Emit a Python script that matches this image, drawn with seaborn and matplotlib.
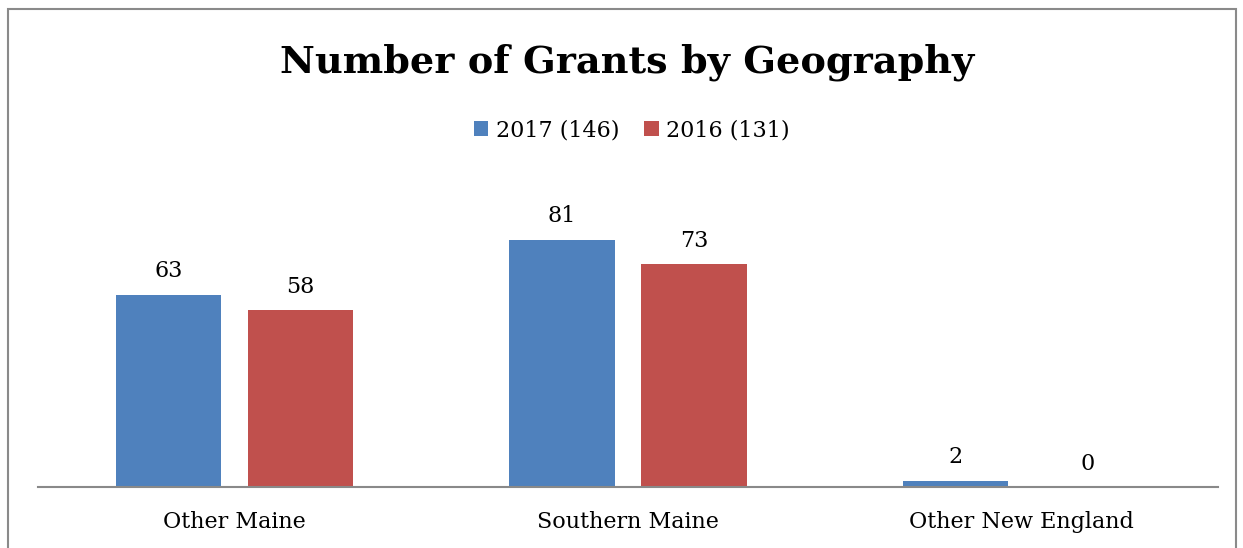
import pandas as pd
import matplotlib
matplotlib.use("Agg")
import matplotlib.pyplot as plt
from matplotlib.patches import Rectangle
import seaborn as sns

regions = ["Other Maine", "Southern Maine", "Other New England"]
grants_2017 = [63, 81, 2]
grants_2016 = [58, 73, 0]
series = ["2017 (146)", "2016 (131)"]
colors = ["#4F81BD", "#C0504D"]

df = pd.DataFrame({
    "region": regions * 2,
    "grants": grants_2017 + grants_2016,
    "year": [series[0]] * 3 + [series[1]] * 3,
})

sns.set_style("white")
plt.rcParams["font.family"] = ["DejaVu Serif"]
plt.rcParams["text.color"] = "black"
plt.rcParams["xtick.color"] = "black"

W, H = 1243, 548
fig = plt.figure(figsize=(W / 100, H / 100), dpi=100)
ax = fig.add_axes([38 / W, (H - 487) / H, (1218 - 38) / W, (487 - 182) / H])

sns.barplot(data=df, x="region", y="grants", hue="year", palette=colors,
            saturation=1, width=0.67, gap=0.2, linewidth=0, ax=ax, legend=True)

ax.set_xlim(-0.5, 2.5)
ax.set_ylim(0, 100)
ax.set_xlabel("")
ax.set_ylabel("")
ax.set_yticks([])
for s in ["top", "left", "right"]:
    ax.spines[s].set_visible(False)
ax.spines["bottom"].set_color("#898989")
ax.spines["bottom"].set_linewidth(1.5)
ax.tick_params(axis="x", length=0, labelsize=16, labelcolor="black", pad=17)

for cont in ax.containers:
    ax.bar_label(cont, fmt="%d", fontsize=16, padding=9, color="black")

handles, labels = ax.get_legend_handles_labels()
ax.legend_.remove()
fig.legend(handles, labels, loc="center", bbox_to_anchor=(632 / W, 1 - 130 / H),
           ncol=2, frameon=False, fontsize=16, handlelength=0.65, handleheight=0.65,
           handletextpad=0.35, columnspacing=1.1)

fig.text(627 / W, 1 - 62 / H, "Number of Grants by Geography", ha="center", va="center",
         fontsize=27.5, fontweight="bold", color="black")

fig.patches.append(Rectangle((8 / W, -0.2), 1228 / W, 1.2 - 9 / H, transform=fig.transFigure,
                             fill=False, edgecolor="#8a8a8a", linewidth=1.5, clip_on=False))

fig.savefig("out.png", dpi=100)
